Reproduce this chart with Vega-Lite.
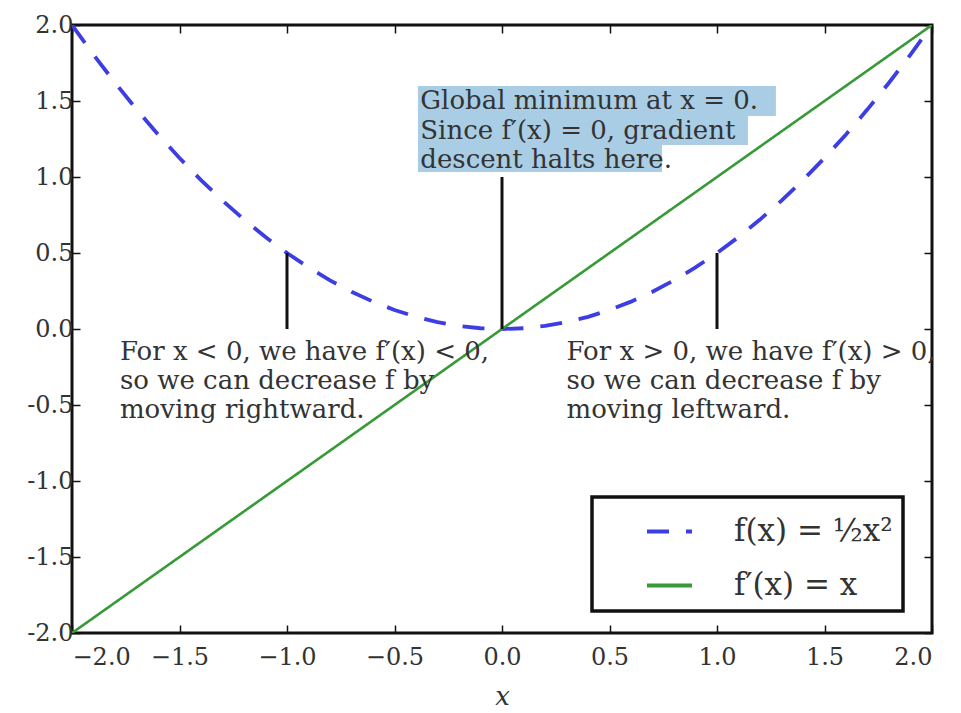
{
  "$schema": "https://vega.github.io/schema/vega-lite/v6.json",
  "autosize": {"type": "none"},
  "width": 860,
  "height": 608,
  "padding": {"left": 72, "top": 25, "right": 29, "bottom": 80},
  "background": "white",
  "config": {
    "font": "DejaVu Serif",
    "view": {"stroke": "#111", "strokeWidth": 3},
    "axis": {"grid": false, "domain": false, "tickColor": "#111", "tickWidth": 1.5, "labelColor": "#333", "titleColor": "#333", "labelFont": "DejaVu Serif", "titleFont": "DejaVu Serif"},
    "legend": {"strokeColor": "#111", "fillColor": "white"}
  },
  "datasets": {
    "curves": [
      {"x": -2.0, "y": 2.0, "series": "f(x) = ½x²"},
      {"x": -1.9, "y": 1.805, "series": "f(x) = ½x²"},
      {"x": -1.8, "y": 1.62, "series": "f(x) = ½x²"},
      {"x": -1.7, "y": 1.445, "series": "f(x) = ½x²"},
      {"x": -1.6, "y": 1.28, "series": "f(x) = ½x²"},
      {"x": -1.5, "y": 1.125, "series": "f(x) = ½x²"},
      {"x": -1.4, "y": 0.98, "series": "f(x) = ½x²"},
      {"x": -1.3, "y": 0.845, "series": "f(x) = ½x²"},
      {"x": -1.2, "y": 0.72, "series": "f(x) = ½x²"},
      {"x": -1.1, "y": 0.605, "series": "f(x) = ½x²"},
      {"x": -1.0, "y": 0.5, "series": "f(x) = ½x²"},
      {"x": -0.9, "y": 0.405, "series": "f(x) = ½x²"},
      {"x": -0.8, "y": 0.32, "series": "f(x) = ½x²"},
      {"x": -0.7, "y": 0.245, "series": "f(x) = ½x²"},
      {"x": -0.6, "y": 0.18, "series": "f(x) = ½x²"},
      {"x": -0.5, "y": 0.125, "series": "f(x) = ½x²"},
      {"x": -0.4, "y": 0.08, "series": "f(x) = ½x²"},
      {"x": -0.3, "y": 0.045, "series": "f(x) = ½x²"},
      {"x": -0.2, "y": 0.02, "series": "f(x) = ½x²"},
      {"x": -0.1, "y": 0.005, "series": "f(x) = ½x²"},
      {"x": 0.0, "y": 0.0, "series": "f(x) = ½x²"},
      {"x": 0.1, "y": 0.005, "series": "f(x) = ½x²"},
      {"x": 0.2, "y": 0.02, "series": "f(x) = ½x²"},
      {"x": 0.3, "y": 0.045, "series": "f(x) = ½x²"},
      {"x": 0.4, "y": 0.08, "series": "f(x) = ½x²"},
      {"x": 0.5, "y": 0.125, "series": "f(x) = ½x²"},
      {"x": 0.6, "y": 0.18, "series": "f(x) = ½x²"},
      {"x": 0.7, "y": 0.245, "series": "f(x) = ½x²"},
      {"x": 0.8, "y": 0.32, "series": "f(x) = ½x²"},
      {"x": 0.9, "y": 0.405, "series": "f(x) = ½x²"},
      {"x": 1.0, "y": 0.5, "series": "f(x) = ½x²"},
      {"x": 1.1, "y": 0.605, "series": "f(x) = ½x²"},
      {"x": 1.2, "y": 0.72, "series": "f(x) = ½x²"},
      {"x": 1.3, "y": 0.845, "series": "f(x) = ½x²"},
      {"x": 1.4, "y": 0.98, "series": "f(x) = ½x²"},
      {"x": 1.5, "y": 1.125, "series": "f(x) = ½x²"},
      {"x": 1.6, "y": 1.28, "series": "f(x) = ½x²"},
      {"x": 1.7, "y": 1.445, "series": "f(x) = ½x²"},
      {"x": 1.8, "y": 1.62, "series": "f(x) = ½x²"},
      {"x": 1.9, "y": 1.805, "series": "f(x) = ½x²"},
      {"x": 2.0, "y": 2.0, "series": "f(x) = ½x²"},
      {"x": -2.0, "y": -2.0, "series": "f′(x) = x"},
      {"x": 2.0, "y": 2.0, "series": "f′(x) = x"}
    ],
    "highlights": [
      {"x": -0.391, "x2": 1.274, "y": 1.599, "y2": 1.401},
      {"x": -0.391, "x2": 1.144, "y": 1.401, "y2": 1.211},
      {"x": -0.391, "x2": 0.744, "y": 1.211, "y2": 1.033}
    ],
    "arrows": [
      {"x": -1.0, "y": 0.5, "y2": 0.0},
      {"x": 0.0, "y": 1.0, "y2": 0.0},
      {"x": 1.0, "y": 0.5, "y2": 0.0}
    ],
    "notes": [
      {"x": -0.38, "y": 1.5, "text": "Global minimum at x = 0."},
      {"x": -0.38, "y": 1.305, "text": "Since f′(x) = 0, gradient"},
      {"x": -0.38, "y": 1.115, "text": "descent halts here."},
      {"x": -1.777, "y": -0.15, "text": "For x < 0, we have f′(x) < 0,"},
      {"x": -1.777, "y": -0.345, "text": "so we can decrease f by"},
      {"x": -1.777, "y": -0.535, "text": "moving rightward."},
      {"x": 0.3, "y": -0.15, "text": "For x > 0, we have f′(x) > 0,"},
      {"x": 0.3, "y": -0.345, "text": "so we can decrease f by"},
      {"x": 0.3, "y": -0.535, "text": "moving leftward."}
    ]
  },
  "layer": [
    {
      "data": {"name": "highlights"},
      "mark": {"type": "rect", "color": "#a9cde5"},
      "encoding": {
        "x": {"field": "x", "type": "quantitative", "axis": null},
        "x2": {"field": "x2"},
        "y": {"field": "y", "type": "quantitative", "axis": null},
        "y2": {"field": "y2"}
      }
    },
    {
      "data": {"name": "curves"},
      "mark": {"type": "line", "clip": true},
      "encoding": {
        "x": {"field": "x", "type": "quantitative", "scale": {"domain": [-2, 2], "nice": false, "zero": false},
          "axis": {"orient": "bottom", "values": [-2, -1.5, -1, -0.5, 0, 0.5, 1, 1.5, 2], "format": ".1f", "tickSize": -8, "labelPadding": 20, "labelFontSize": 24, "title": "x", "titleFontStyle": "italic", "titleFontWeight": "normal", "titleFontSize": 26, "titlePadding": 14}},
        "y": {"field": "y", "type": "quantitative", "scale": {"domain": [-2, 2], "nice": false, "zero": false},
          "axis": {"orient": "left", "values": [-2, -1.5, -1, -0.5, 0, 0.5, 1, 1.5, 2], "labelExpr": "replace(format(datum.value, '.1f'), '−', '-')", "tickSize": -8, "labelPadding": 7, "labelFontSize": 24, "title": null}},
        "color": {"field": "series", "type": "nominal", "scale": {"domain": ["f(x) = ½x²", "f′(x) = x"], "range": ["#3d3de4", "#369a36"]},
          "legend": {"title": null, "orient": "none", "legendX": 520, "legendY": 472, "symbolType": "stroke", "symbolSize": 2025, "symbolStrokeWidth": 4, "labelFontSize": 31, "labelColor": "#333", "labelOffset": 40, "rowPadding": 14, "padding": 10, "symbolOffset": 43, "labelLimit": 400,
            "encode": {"legend": {"update": {"strokeWidth": {"value": 3.5}}}}}},
        "strokeDash": {"field": "series", "type": "nominal", "scale": {"domain": ["f(x) = ½x²", "f′(x) = x"], "range": [[22, 17], [1, 0]]}, "legend": {"title": null}},
        "strokeWidth": {"condition": {"test": "datum.series === 'f′(x) = x'", "value": 2.6}, "value": 3.8}
      }
    },
    {
      "data": {"name": "arrows"},
      "mark": {"type": "rule", "color": "#111", "strokeWidth": 3},
      "encoding": {
        "x": {"field": "x", "type": "quantitative", "axis": null},
        "y": {"field": "y", "type": "quantitative", "axis": null},
        "y2": {"field": "y2"}
      }
    },
    {
      "data": {"name": "notes"},
      "mark": {"type": "text", "align": "left", "baseline": "middle", "fontSize": 26, "color": "#333"},
      "encoding": {
        "x": {"field": "x", "type": "quantitative",
          "axis": {"orient": "top", "values": [-2, -1.5, -1, -0.5, 0, 0.5, 1, 1.5, 2], "labels": false, "tickSize": -8, "title": null}},
        "y": {"field": "y", "type": "quantitative",
          "axis": {"orient": "right", "values": [-2, -1.5, -1, -0.5, 0, 0.5, 1, 1.5, 2], "labels": false, "tickSize": -8, "title": null}},
        "text": {"field": "text"}
      }
    }
  ],
  "resolve": {"axis": {"x": "independent", "y": "independent"}}
}
